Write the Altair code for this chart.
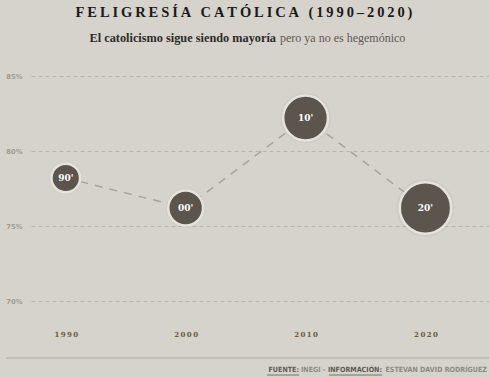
import altair as alt
import pandas as pd

# ---- data ----
anios = [1990, 2000, 2010, 2020]
porcentaje = [78.2, 76.2, 82.2, 76.2]
peso = [31, 46, 76, 100]          # relative bubble area
etiquetas = ["90'", "00'", "10'", "20'"]

titulo = "FELIGRESÍA CATÓLICA (1990–2020)"
sub_bold = "El catolicismo sigue siendo mayoría"
sub_reg = "pero ya no es hegemónico"
fuente_partes = ["FUENTE:", "INEGI -", "INFORMACIÓN:", "ESTEVAN DAVID RODRÍGUEZ"]

df = pd.DataFrame({"anio": anios, "pct": porcentaje, "peso": peso, "etq": etiquetas})

BG = "#d6d3cc"
TS = "\u2009"

xenc = alt.X("anio:Q", scale=alt.Scale(domain=[1987.1, 2025.3], nice=False, zero=False),
             axis=alt.Axis(values=anios, grid=False, domain=False, ticks=False,
                           labelExpr="join(split(toString(datum.value), ''), '" + TS + "')",
                           labelFont="DejaVu Serif", labelFontWeight="bold", labelFontSize=7,
                           labelColor="#6b5c47", labelPadding=29, title=None))
yenc = alt.Y("pct:Q", scale=alt.Scale(domain=[70, 85], nice=False, zero=False),
             axis=alt.Axis(values=[70, 75, 80, 85], grid=True, gridDash=[4, 3], gridColor="#b9b4ac",
                           gridWidth=1, domain=False, ticks=False,
                           labelExpr="toString(datum.value) + '%'",
                           labelFont="DejaVu Sans", labelFontWeight="bold", labelFontSize=6.8,
                           labelColor="#a19a91", labelPadding=9, title=None))

base = alt.Chart(df)

linea = base.mark_line(color="#a9a49d", strokeWidth=1.5, strokeDash=[8, 7]).encode(x=xenc, y=yenc)

sombra = base.mark_circle(color="#4a4540", opacity=0.045).encode(
    x=alt.X("anio:Q"), y=alt.Y("pct:Q"),
    size=alt.Size("peso:Q", scale=alt.Scale(domain=[0, 100], range=[0, 3350]), legend=None))

burbujas = base.mark_point(shape="circle", filled=True, fill="#5b554e", fillOpacity=1,
                           stroke="#e6e3dd", strokeWidth=2.5, opacity=1).encode(
    x=alt.X("anio:Q"), y=alt.Y("pct:Q"),
    size=alt.Size("peso:Q", scale=alt.Scale(domain=[0, 100], range=[0, 2640]), legend=None))

textos = base.mark_text(color="white", font="DejaVu Serif", fontWeight="bold", fontSize=9,
                        align="center", baseline="middle").encode(
    x=alt.X("anio:Q"), y=alt.Y("pct:Q"), text="etq:N")

one = pd.DataFrame({"t": [0]})

tit = alt.Chart(one).mark_text(text=TS.join(titulo), font="Liberation Serif", fontWeight="bold",
                               fontSize=14.5, color="#1b1a18", align="center", baseline="middle").encode(
    x=alt.value(213), y=alt.value(-63))

sb = alt.Chart(one).mark_text(text=sub_bold, font="Liberation Serif", fontWeight="bold",
                              fontSize=12.3, color="#2e2b28", align="right", baseline="middle").encode(
    x=alt.value(245), y=alt.value(-38))
sr = alt.Chart(one).mark_text(text=sub_reg, font="Liberation Serif", fontWeight="normal",
                              fontSize=12, color="#5e5953", align="left", baseline="middle").encode(
    x=alt.value(249), y=alt.value(-38))

regla = alt.Chart(one).mark_rule(color="#bcb7af", strokeWidth=1.5).encode(
    x=alt.value(-25), x2=alt.value(458), y=alt.value(282))

FF = "DejaVu Sans Condensed"
xs_fin = [268, 294.5, 351, 456]
colores = ["#5f5a53", "#8f8981", "#5f5a53", "#8f8981"]
pies = []
for parte, xx, cc in zip(fuente_partes, xs_fin, colores):
    pies.append(alt.Chart(one).mark_text(text=parte, font=FF, fontSize=7.1, fontWeight="bold", color=cc,
                                         align="right", baseline="middle").encode(
        x=alt.value(xx), y=alt.value(294)))

sub1 = alt.Chart(one).mark_rule(color="#5f5a53", strokeWidth=0.8).encode(
    x=alt.value(236), x2=alt.value(268), y=alt.value(299))
sub2 = alt.Chart(one).mark_rule(color="#5f5a53", strokeWidth=0.8).encode(
    x=alt.value(298), x2=alt.value(351), y=alt.value(299))

chart = alt.layer(linea, sombra, burbujas, textos, tit, sb, sr, regla, *pies, sub1, sub2).resolve_scale(
    size="independent"
).properties(
    width=458, height=225,
    autosize=alt.AutoSizeParams(type="none"),
    padding={"left": 31, "top": 76, "right": 0, "bottom": 77},
    background=BG,
).configure_view(stroke=None, clip=False)

chart.save("out.html", embed_options={"renderer": "svg", "actions": False})
